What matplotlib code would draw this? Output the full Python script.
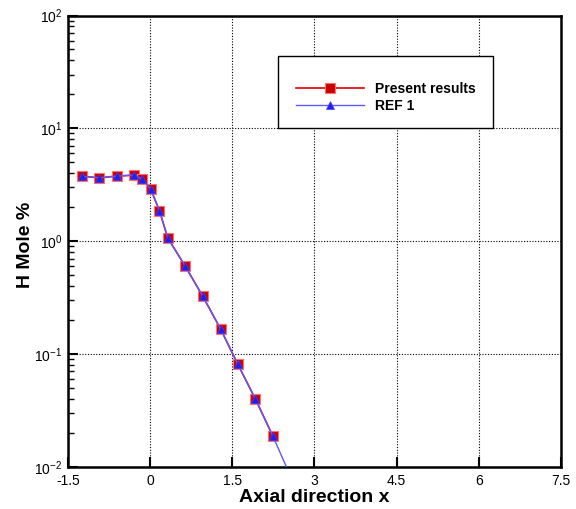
import numpy as np
import matplotlib
matplotlib.use("Agg")
import matplotlib.pyplot as plt
from matplotlib.patches import Rectangle
from matplotlib.ticker import LogLocator, FixedLocator

# values
x_present = [-1.25, -0.93, -0.61, -0.29, -0.14, 0.01, 0.17, 0.32, 0.64, 0.96, 1.29, 1.60, 1.92, 2.24]
h_present = [3.77, 3.64, 3.77, 3.85, 3.55, 2.89, 1.86, 1.07, 0.60, 0.325, 0.165, 0.081, 0.040, 0.0187]

x_ref = [-1.25, -0.93, -0.61, -0.29, -0.14, 0.01, 0.17, 0.32, 0.64, 0.96, 1.29, 1.60, 1.92, 2.24, 2.55]
h_ref = [3.77, 3.64, 3.77, 3.85, 3.55, 2.89, 1.86, 1.07, 0.60, 0.325, 0.165, 0.081, 0.040, 0.0187, 0.0085]

x_ticks = [-1.5, 0, 1.5, 3, 4.5, 6, 7.5]
x_tick_labels = ["-1.5", "0", "1.5", "3", "4.5", "6", "7.5"]

plt.rcParams['font.family'] = ['Liberation Sans', 'DejaVu Sans']
plt.rcParams['mathtext.fontset'] = 'custom'
plt.rcParams['mathtext.rm'] = 'Liberation Sans'

fig = plt.figure(figsize=(5.76, 5.09), dpi=100)
ax = fig.add_axes([0.118, 0.083, 0.856, 0.8865])

ax.plot(x_present, h_present, color='#dd0000', lw=1.2, marker='s', markersize=6.5,
        markerfacecolor='#cc0000', markeredgecolor='#ff7070', markeredgewidth=0.8,
        label='Present results', zorder=3)
ax.plot(x_ref, h_ref, color='#5a5aff', lw=1.0, marker='^', markersize=5.5,
        markerfacecolor='#2020ee', markeredgecolor='#4040ff', markeredgewidth=0.5,
        markevery=list(range(len(x_ref) - 1)), label='REF 1', zorder=4)

ax.set_yscale('log')
ax.set_xlim(-1.5, 7.5)
ax.set_ylim(1e-2, 1e2)
ax.xaxis.set_major_locator(FixedLocator(x_ticks))
ax.set_xticklabels(x_tick_labels)
ax.yaxis.set_major_locator(LogLocator(base=10, numticks=10))
ax.yaxis.set_minor_locator(LogLocator(base=10, subs=np.arange(2, 10), numticks=10))

ax.tick_params(axis='both', which='major', direction='in', length=7, width=1.5,
               labelsize=10, top=False, right=False)
ax.tick_params(axis='x', which='major', pad=5)
ax.tick_params(axis='y', which='major', pad=4)
ax.tick_params(axis='y', which='minor', direction='in', length=4, width=1.0, right=False)
ax.grid(True, which='major', color='black', linestyle=(0, (1, 1.5)), linewidth=0.8)

for side in ['left', 'bottom', 'top', 'right']:
    ax.spines[side].set_linewidth(1.8)
ax.set_axisbelow(True)

ax.set_xlabel('Axial direction x', fontsize=14, fontweight='bold')
ax.set_ylabel('H Mole %', fontsize=14, fontweight='bold')
ax.xaxis.set_label_coords(0.5, -0.049)
ax.yaxis.set_label_coords(-0.069, 0.491)

# legend box
ax.add_patch(Rectangle((0.426, 0.751), 0.436, 0.159, transform=ax.transAxes,
                       facecolor='white', edgecolor='black', lw=1.0, zorder=5))
leg = ax.legend(loc='center left', bbox_to_anchor=(0.462, 0.818), frameon=False,
                numpoints=1, handlelength=4.9, handletextpad=0.8, labelspacing=0.2,
                borderpad=0, borderaxespad=0,
                prop={'size': 10, 'weight': 'bold'})
leg.set_zorder(6)

fig.savefig('out.png', dpi=100)
